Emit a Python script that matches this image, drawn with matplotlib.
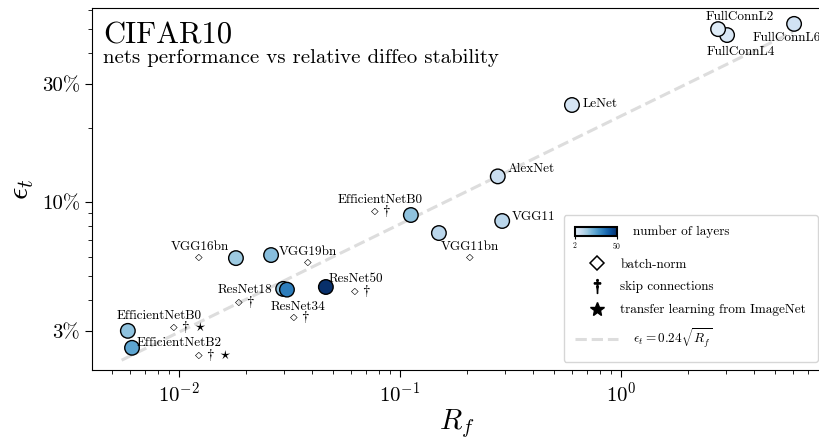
import matplotlib
matplotlib.use("Agg")
import matplotlib.pyplot as plt
import numpy as np
from matplotlib.lines import Line2D
from matplotlib import cm, colors
from matplotlib.ticker import NullFormatter

plt.rcParams['font.family'] = 'serif'
plt.rcParams['font.serif'] = ['cmr10']
plt.rcParams['mathtext.fontset'] = 'cm'
plt.rcParams['axes.formatter.use_mathtext'] = True

# values
nets = ['FullConnL4', 'FullConnL2', 'FullConnL6', 'LeNet', 'AlexNet', 'VGG11', 'VGG11bn',
        'EfficientNetB0', 'VGG16bn', 'VGG19bn', 'ResNet18', 'ResNet34', 'ResNet50',
        'EfficientNetB0', 'EfficientNetB2']
Rf = [3.02, 2.75, 6.07, 0.600, 0.277, 0.290, 0.150, 0.112, 0.0181, 0.0261,
      0.0296, 0.0308, 0.0462, 0.00587, 0.00613]
err = [0.474, 0.501, 0.526, 0.247, 0.127, 0.0838, 0.0749, 0.0886, 0.0593, 0.0610,
       0.0445, 0.0442, 0.0453, 0.0301, 0.0257]
layers = [4, 2, 6, 5, 8, 11, 11, 18, 16, 19, 18, 34, 50, 18, 25]
batchnorm = [0, 0, 0, 0, 0, 0, 1, 1, 1, 1, 1, 1, 1, 1, 1]
skip = [0, 0, 0, 0, 0, 0, 0, 1, 0, 0, 1, 1, 1, 1, 1]
transfer = [0, 0, 0, 0, 0, 0, 0, 0, 0, 0, 0, 0, 0, 1, 1]

# dashed guide, two ends
fit_Rf = [0.0055, 6.0]
fit_err = [0.0229, 0.488]

ytick_vals = [0.03, 0.1, 0.3]
ytick_labels = ['3%', '10%', '30%']

# label placement (offset pixels from the point): name dx, dy, ha ; markers dx, dy
name_off = [(14, -17, 'center'), (22, 12, 'center'), (-41, -14, 'left'), (11, 1, 'left'),
            (10, 7, 'left'), (10, 4, 'left'), (31, -14, 'center'), (-31, 15, 'center'),
            (-36, 11, 'center'), (8, 3, 'left'), (-38, -1, 'center'), (11, -17, 'center'),
            (30, 8, 'center'), (31, 15, 'center'), (47, 5, 'center')]
mark_off = [None, None, None, None, None, None, (31, -24), (-30, 4), (-37, 1), (37, -7),
            (-38, -13), (13, -27), (35, -4), (60, 4), (81, -7)]

# Blues, starting a bit off white
blues = colors.LinearSegmentedColormap.from_list(
    'blues_cut', plt.get_cmap('Blues')(np.linspace(0.12, 1.0, 256)))

fig = plt.figure(figsize=(8.2, 4.45), dpi=100)
ax = fig.add_axes([92/820, 75/445, 730/820, 362/445])
ax.set_xscale('log')
ax.set_yscale('log')

norm = colors.Normalize(vmin=2, vmax=50)
fit_line, = ax.plot(fit_Rf, fit_err, color='#dddddd', lw=2.2, ls='--', zorder=1)
ax.scatter(Rf, err, c=layers, cmap=blues, norm=norm, s=110,
           edgecolors='k', linewidths=1.0, zorder=3)

for i, name in enumerate(nets):
    dx, dy, ha = name_off[i]
    ax.annotate(name, (Rf[i], err[i]), xytext=(dx, dy), textcoords='offset pixels',
                ha=ha, va='center', fontsize=9.5, zorder=4)
    if mark_off[i] is not None:
        parts = []
        if batchnorm[i]:
            parts.append(r'$\diamond$')
        if skip[i]:
            parts.append(r'$\dagger$')
        if transfer[i]:
            parts.append(r'$\star$')
        ax.annotate(' '.join(parts), (Rf[i], err[i]), xytext=mark_off[i],
                    textcoords='offset pixels', ha='center', va='center',
                    fontsize=11, zorder=4)

ax.set_xlim(0.00404, 8.12)
ax.set_ylim(0.0209, 0.610)
ax.set_yticks(ytick_vals)
ax.set_yticklabels(ytick_labels)
ax.yaxis.set_minor_formatter(NullFormatter())
ax.xaxis.set_minor_formatter(NullFormatter())
ax.tick_params(which='major', labelsize=15, length=5)
ax.tick_params(which='minor', length=3)
ax.set_xlabel(r'$R_f$', fontsize=21, labelpad=1)
ax.set_ylabel(r'$\epsilon_t$', fontsize=22)

ax.text(0.015, 0.903, 'CIFAR10', transform=ax.transAxes, fontsize=22, va='baseline')
ax.text(0.015, 0.848, 'nets performance vs relative diffeo stability',
        transform=ax.transAxes, fontsize=15, va='baseline')

handles = [Line2D([], [], marker='D', ms=7.5, mfc='white', mec='k', mew=1.1, ls='none'),
           Line2D([], [], marker=r'$\dagger$', ms=10, color='k', ls='none'),
           Line2D([], [], marker='*', ms=10, color='k', ls='none'),
           fit_line]
labels = ['batch-norm', 'skip connections', 'transfer learning from ImageNet',
          r'   $\epsilon_t = 0.24\sqrt{R_f}$']
# empty two-line title keeps room for the colour bar row
leg = ax.legend(handles, labels, loc='lower right', bbox_to_anchor=(0.9945, 0.022),
                borderaxespad=0, fontsize=9.5, handlelength=3.2, handletextpad=0.2,
                borderpad=0.9, labelspacing=0.8, framealpha=0.8, edgecolor='0.8',
                title=' \n ', title_fontsize=8)

cax = fig.add_axes([575/820, 1 - 236/445, 42/820, 9/445])
cb = fig.colorbar(cm.ScalarMappable(norm=norm, cmap=blues), cax=cax,
                  orientation='horizontal', ticks=[2, 50])
cb.ax.tick_params(labelsize=5.5, length=2, pad=1)
cb.outline.set_linewidth(1.5)
fig.text(633/820, 1 - 232/445, 'number of layers', fontsize=9.5, va='center')

fig.savefig('out.png', dpi=100)
